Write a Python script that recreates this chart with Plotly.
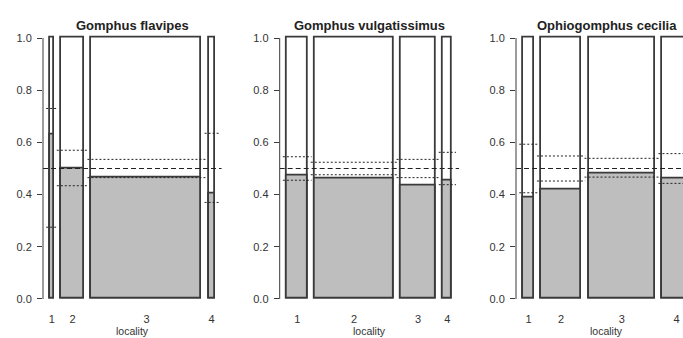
import plotly.graph_objects as go

species = ["Gomphus flavipes", "Gomphus vulgatissimus", "Ophiogomphus cecilia"]
localities = ["1", "2", "3", "4"]

# relative sample size per locality (drives the bar width)
size_flavipes = [3.5, 23.5, 110, 6]
size_vulgatissimus = [20.7, 78.6, 35, 9.3]
size_cecilia = [10.4, 40.3, 66.7, 28]

# observed proportion per locality
prop_flavipes = [0.63, 0.50, 0.465, 0.405]
prop_vulgatissimus = [0.471, 0.462, 0.434, 0.452]
prop_cecilia = [0.39, 0.418, 0.482, 0.462]

# funnel limits around the expected proportion
upper_flavipes = [0.73, 0.57, 0.535, 0.635]
lower_flavipes = [0.275, 0.434, 0.465, 0.37]
upper_vulgatissimus = [0.545, 0.524, 0.535, 0.562]
lower_vulgatissimus = [0.455, 0.476, 0.465, 0.438]
upper_cecilia = [0.593, 0.548, 0.539, 0.557]
lower_cecilia = [0.407, 0.452, 0.467, 0.443]

expected = 0.5
y_ticks = [0.0, 0.2, 0.4, 0.6, 0.8, 1.0]

panels = [
    (species[0], size_flavipes, prop_flavipes, upper_flavipes, lower_flavipes),
    (species[1], size_vulgatissimus, prop_vulgatissimus, upper_vulgatissimus, lower_vulgatissimus),
    (species[2], size_cecilia, prop_cecilia, upper_cecilia, lower_cecilia),
]

W, H = 683, 338
axis_left_px = [43, 279.7, 516]
y_lo, y_hi = -0.04, 1.04
y_dom = [(H - 309.4) / H, (H - 27.6) / H]

OUTLINE = "#3a3a3a"
FILL = "#bebebe"
TEXT = "#333333"
FONT = "Liberation Sans, Arial, sans-serif"

fig = go.Figure()
annotations = []
shapes = []

for i, (name, size, prop, upper, lower) in enumerate(panels):
    k = i + 1
    xa = "x" if k == 1 else f"x{k}"
    ya = "y" if k == 1 else f"y{k}"
    gap = 0.2 * sum(size) / len(size)

    lefts = []
    pos = gap
    for w in size:
        lefts.append(pos)
        pos += w + gap
    full = pos  # one gap is kept after the last bar
    centers = [l + w / 2 for l, w in zip(lefts, size)]

    d0 = axis_left_px[i] / W
    d1 = min(1.0, (axis_left_px[i] + full) / W)
    x_end = (d1 - d0) * W

    # full-height outline and filled proportion
    fig.add_trace(go.Bar(x=centers, y=[1.0] * len(size), width=size, base=0,
                         marker=dict(color="white", line=dict(color=OUTLINE, width=1.8)),
                         xaxis=xa, yaxis=ya, showlegend=False, hoverinfo="skip"))
    fig.add_trace(go.Bar(x=centers, y=prop, width=size, base=0,
                         marker=dict(color=FILL, line=dict(color=OUTLINE, width=1.8)),
                         xaxis=xa, yaxis=ya, showlegend=False, hoverinfo="skip"))

    # limits as short dotted segments over each bar
    ext = 4
    for lim in (upper, lower):
        xs, ys = [], []
        for l, w, v in zip(lefts, size, lim):
            xs += [l - ext, l + w + ext, None]
            ys += [v, v, None]
        fig.add_trace(go.Scatter(x=xs, y=ys, mode="lines",
                                 line=dict(color="#222222", width=1, dash="2px,2px"),
                                 xaxis=xa, yaxis=ya, showlegend=False, hoverinfo="skip"))

    # expected proportion
    fig.add_trace(go.Scatter(x=[0, full], y=[expected, expected], mode="lines",
                             line=dict(color="#222222", width=1, dash="5px,3px"),
                             xaxis=xa, yaxis=ya, showlegend=False, hoverinfo="skip"))

    fig.update_layout({
        f"xaxis{'' if k == 1 else k}": dict(
            domain=[d0, d1], range=[0, x_end], anchor=ya,
            showgrid=False, zeroline=False, showline=False, ticks="",
            tickvals=centers, ticktext=localities,
            tickfont=dict(family=FONT, size=11, color=TEXT),
            ticklabelstandoff=2, fixedrange=True),
        f"yaxis{'' if k == 1 else k}": dict(
            domain=y_dom, range=[y_lo, y_hi], anchor=xa,
            showgrid=False, zeroline=False, showline=False,
            ticks="outside", ticklen=5, tickcolor=OUTLINE, tickwidth=1,
            tickvals=y_ticks, ticktext=[f"{v:.1f}" for v in y_ticks],
            tickfont=dict(family=FONT, size=11, color=TEXT),
            ticklabelstandoff=3, fixedrange=True),
    })

    # y axis line from 0 to 1
    shapes.append(dict(type="line", xref=f"{xa} domain", yref=ya,
                       x0=0, x1=0, y0=0, y1=1, line=dict(color=OUTLINE, width=1)))

    center_px = axis_left_px[i] + full / 2
    annotations.append(dict(text=f"<b>{name}</b>", xref="paper", yref="paper",
                            x=center_px / W, y=(H - 25) / H, showarrow=False,
                            xanchor="center", yanchor="middle",
                            font=dict(family=FONT, size=13, color="#222222")))
    annotations.append(dict(text="locality", xref="paper", yref="paper",
                            x=center_px / W, y=0, showarrow=False,
                            xanchor="center", yanchor="bottom", borderpad=0,
                            font=dict(family=FONT, size=10.5, color=TEXT)))

fig.update_layout(
    width=W, height=H, margin=dict(l=0, r=0, t=0, b=0),
    paper_bgcolor="white", plot_bgcolor="white",
    barmode="overlay", bargap=0,
    shapes=shapes, annotations=annotations,
)

fig.write_html("out.html")
